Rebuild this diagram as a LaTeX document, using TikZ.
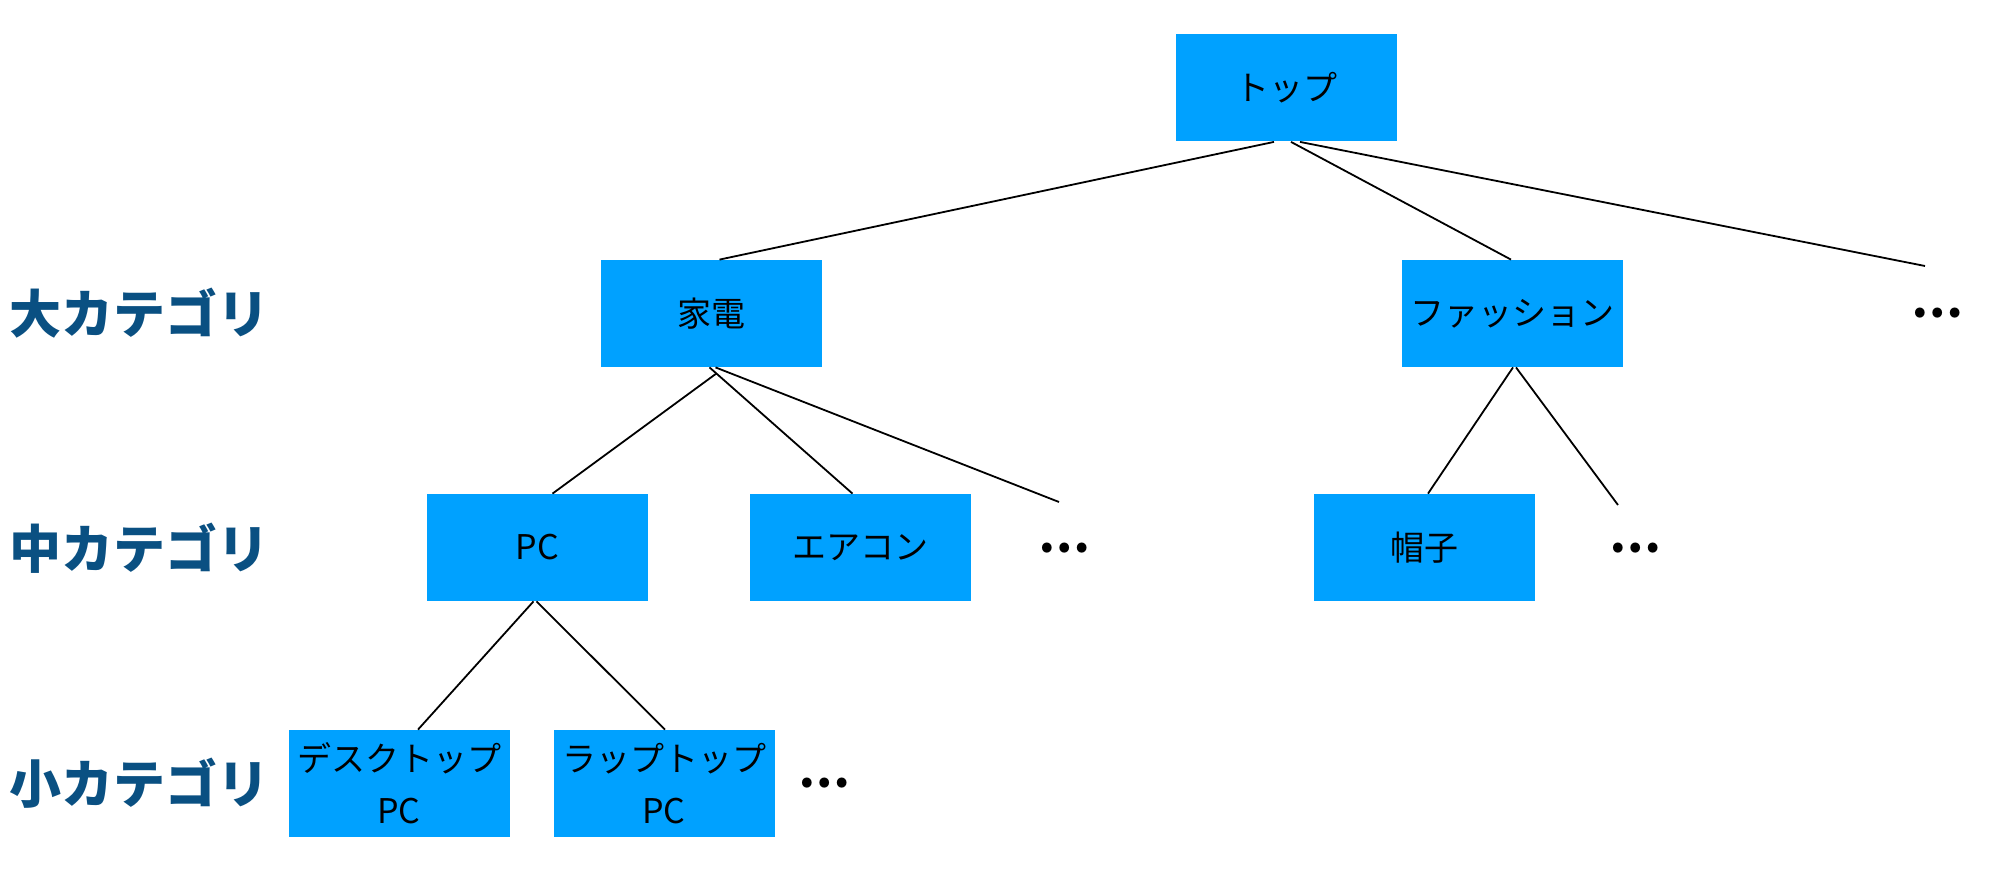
\documentclass[tikz,border=0pt]{standalone}
\usepackage{fontspec}
\setmainfont{Noto Sans CJK JP}
\newfontfamily\cjk{Noto Sans CJK JP}
\usetikzlibrary{calc}
\definecolor{boxblue}{RGB}{0,161,255}
\definecolor{lvlblue}{RGB}{10,80,130}
\tikzset{
  cat/.style={fill=boxblue, draw=none, minimum width=110.5pt, minimum height=53.5pt, inner sep=0pt, font=\cjk\fontsize{17}{26}\selectfont, align=center},
  lvl/.style={anchor=west, text=lvlblue, font=\cjk\bfseries\fontsize{26}{30}\selectfont, inner sep=0pt},
  more/.style={font=\cjk\bfseries\fontsize{23}{24}\selectfont, inner sep=0pt},
  link/.style={draw=black, line width=0.9pt}
}
\begin{document}
\begin{tikzpicture}[x=0.5pt,y=-0.5pt]
\useasboundingbox (0,0) rectangle (1998,888);
% level labels
\node[lvl] (l1) at (9,313) {大カテゴリ};
\node[lvl] (l2) at (9,548) {中カテゴリ};
\node[lvl] (l3) at (9,783) {小カテゴリ};
% boxes
\node[cat] (top) at (1286,88) {トップ};
\node[cat] (kaden) at (711.5,313.5) {家電};
\node[cat] (fashion) at (1512,313.5) {ファッション};
\node[cat] (pc) at (537.5,547.5) {PC};
\node[cat] (aircon) at (860.5,547.5) {エアコン};
\node[cat] (hat) at (1424,547.5) {帽子};
\node[cat] (desktop) at (399,783.5) {デスクトップ\\PC};
\node[cat] (laptop) at (664,783.5) {ラップトップ\\PC};
% ellipses
\node[more] (dtop) at (1937,313) {…};
\node[more] (dkaden) at (1064,548) {…};
\node[more] (dfashion) at (1635,548) {…};
\node[more] (dpc) at (824,783) {…};
\coordinate (e1) at (1925,266);
\coordinate (e2) at (1059,502);
\coordinate (e3) at (1618,505);
% connectors
\draw[link] ($(top.south)+(-12,0)$) -- ($(kaden.north)+(8,0)$);
\draw[link] ($(top.south)+(5,0)$) -- ($(fashion.north)+(-1,0)$);
\draw[link] ($(top.south)+(14,0)$) -- (e1);
\draw[link] ($(kaden.south)+(5,6)$) -- ($(pc.north)+(15,0)$);
\draw[link] ($(kaden.south)+(-2,0)$) -- ($(aircon.north)+(-8,0)$);
\draw[link] ($(kaden.south)+(4,0)$) -- (e2);
\draw[link] ($(pc.south)+(-4,0)$) -- ($(desktop.north)+(19,0)$);
\draw[link] ($(pc.south)+(-1,0)$) -- ($(laptop.north)+(1,0)$);
\draw[link] ($(fashion.south)+(1,0)$) -- ($(hat.north)+(4,0)$);
\draw[link] ($(fashion.south)+(4,0)$) -- (e3);
\end{tikzpicture}
\end{document}
